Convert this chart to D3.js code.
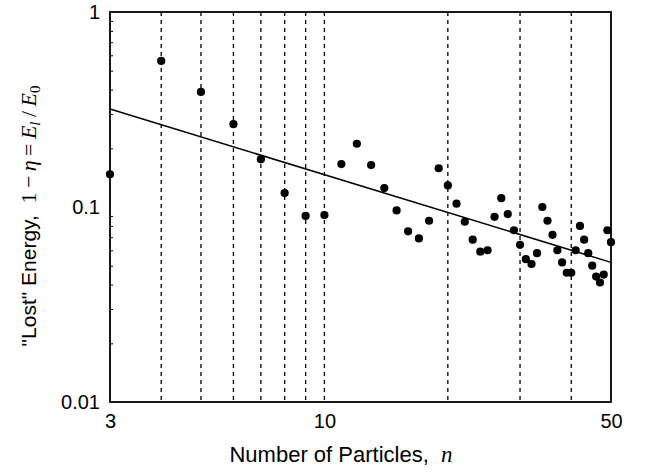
<!DOCTYPE html>
<html>
<head>
<meta charset="utf-8">
<script src="https://cdn.jsdelivr.net/npm/d3@7"></script>
<style>
  body { margin: 0; background: #fff; }
  svg { display: block; }
  text { font-family: "Liberation Sans", Arial, sans-serif; fill: #000; }
</style>
</head>
<body>
<svg></svg>
<script>
var width = 647;
var height = 474;
var margin = {left: 110, right: 36, top: 12, bottom: 72};

// number of particles and lost energy 1 - eta
var particles = [3, 4, 5, 6, 7, 8, 9, 10, 11, 12, 13, 14, 15, 16, 17, 18, 19, 20,
    21, 22, 23, 24, 25, 26, 27, 28, 29, 30, 31, 32, 33, 34, 35, 36, 37, 38, 39, 40,
    41, 42, 43, 44, 45, 46, 47, 48, 49, 50];
var lostEnergy = [0.147, 0.561, 0.389, 0.266, 0.176, 0.118, 0.090, 0.091, 0.166, 0.211,
    0.164, 0.125, 0.096, 0.075, 0.069, 0.085, 0.158, 0.129, 0.104, 0.084, 0.068, 0.059,
    0.060, 0.089, 0.111, 0.092, 0.076, 0.064, 0.054, 0.051, 0.058, 0.100, 0.085, 0.072,
    0.060, 0.052, 0.046, 0.046, 0.060, 0.080, 0.068, 0.058, 0.050, 0.044, 0.041, 0.045,
    0.076, 0.066];

// power-law fit, end points
var fitN = [3, 50];
var fitE = [0.318, 0.052];

var dashedN = [4, 5, 6, 7, 8, 9, 10, 20, 30, 40];
var xTicks = [3, 10, 50];
var yTicks = [0.01, 0.1, 1];
var yTickLabels = ["0.01", "0.1", "1"];
var yMinor = [0.02, 0.03, 0.04, 0.05, 0.06, 0.07, 0.08, 0.09,
    0.2, 0.3, 0.4, 0.5, 0.6, 0.7, 0.8, 0.9];

var svg = d3.select("svg")
    .attr("width", width)
    .attr("height", height);

var x = d3.scaleLog()
    .domain([3, 50])
    .range([margin.left, width - margin.right]);

var y = d3.scaleLog()
    .domain([0.01, 1])
    .range([height - margin.bottom, margin.top]);

// dashed verticals
svg.append("g")
    .selectAll("line")
    .data(dashedN)
    .enter()
    .append("line")
    .attr("x1", d => x(d))
    .attr("x2", d => x(d))
    .attr("y1", y(1))
    .attr("y2", y(0.01))
    .attr("stroke", "#000")
    .attr("stroke-width", 1.3)
    .attr("stroke-dasharray", "4,4");

// minor ticks inward on the left
svg.append("g")
    .attr("transform", `translate(${x(3)},0)`)
    .call(d3.axisLeft(y).tickValues(yMinor).tickSize(-3).tickFormat(""))
    .call(g => g.select(".domain").remove())
    .selectAll("line").attr("stroke-width", 1);

// tick labels
svg.append("g")
    .attr("transform", `translate(${x(3)},0)`)
    .call(d3.axisLeft(y).tickValues(yTicks).tickSize(0).tickPadding(10)
        .tickFormat((d, i) => yTickLabels[i]))
    .call(g => g.select(".domain").remove())
    .selectAll("text")
    .style("font-size", "20px");

svg.append("g")
    .attr("transform", `translate(0,${y(0.01)})`)
    .call(d3.axisBottom(x).tickValues(xTicks).tickSize(0).tickPadding(12)
        .tickFormat(d3.format("d")))
    .call(g => g.select(".domain").remove())
    .selectAll("text")
    .style("font-size", "20px");

// frame
svg.append("rect")
    .attr("x", x(3))
    .attr("y", y(1))
    .attr("width", x(50) - x(3))
    .attr("height", y(0.01) - y(1))
    .attr("fill", "none")
    .attr("stroke", "#000")
    .attr("stroke-width", 1.8);

// fit line
svg.append("line")
    .attr("x1", x(fitN[0]))
    .attr("y1", y(fitE[0]))
    .attr("x2", x(fitN[1]))
    .attr("y2", y(fitE[1]))
    .attr("stroke", "#000")
    .attr("stroke-width", 1.5);

// data points
svg.append("g")
    .selectAll("circle")
    .data(particles)
    .enter()
    .append("circle")
    .attr("cx", d => x(d))
    .attr("cy", (d, i) => y(lostEnergy[i]))
    .attr("r", 4.1)
    .attr("fill", "#000");

// axis titles
var xt = svg.append("text")
    .attr("x", 341)
    .attr("y", 462)
    .style("text-anchor", "middle")
    .style("font-size", "22px");
xt.append("tspan").text("Number of Particles,\u00a0\u00a0");
xt.append("tspan")
    .style("font-family", "'Liberation Serif', serif")
    .style("font-style", "italic")
    .style("font-size", "23px")
    .text("n");

var yt = svg.append("text")
    .attr("transform", "rotate(-90)")
    .attr("x", -216)
    .attr("y", 36)
    .style("text-anchor", "middle")
    .style("font-size", "21px");
yt.append("tspan").text("\"Lost\" Energy,\u00a0\u00a0");
var serif = "'Liberation Serif', serif";
yt.append("tspan").style("font-family", serif).style("font-size", "22px").text("1\u2009\u2212\u2009");
yt.append("tspan").style("font-family", serif).style("font-style", "italic").style("font-size", "22px").text("\u03b7");
yt.append("tspan").style("font-family", serif).style("font-size", "22px").text("\u2009=\u2009");
yt.append("tspan").style("font-family", serif).style("font-style", "italic").style("font-size", "22px").text("E");
yt.append("tspan").style("font-family", serif).style("font-style", "italic").style("font-size", "15px")
    .attr("dy", 4).text("l");
yt.append("tspan").style("font-family", serif).style("font-size", "22px")
    .attr("dy", -4).text("\u2009/\u2009");
yt.append("tspan").style("font-family", serif).style("font-style", "italic").style("font-size", "22px").text("E");
yt.append("tspan").style("font-family", serif).style("font-size", "15px")
    .attr("dy", 4).text("0");
</script>
</body>
</html>
